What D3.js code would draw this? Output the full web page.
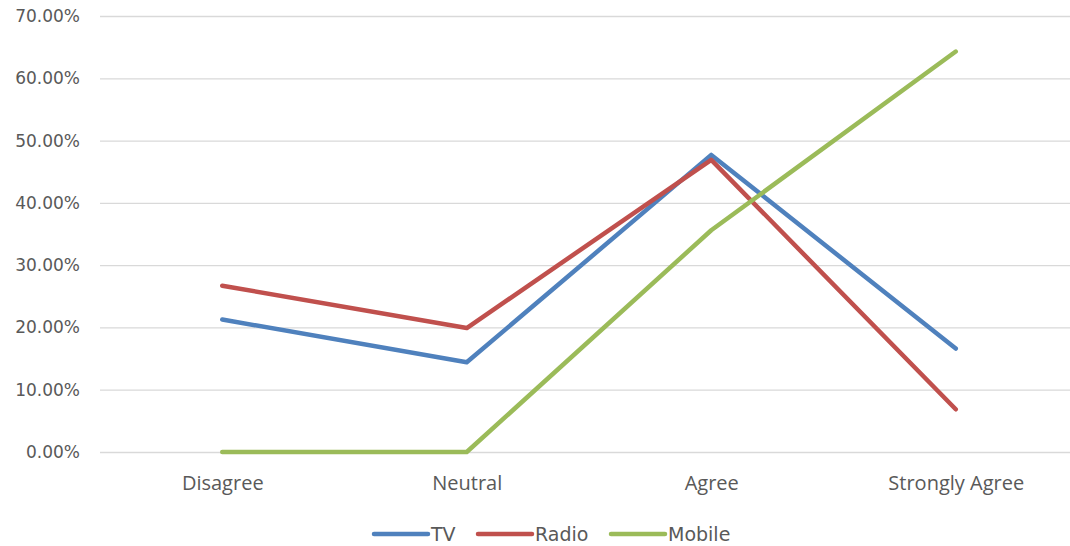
<!DOCTYPE html>
<html>
<head>
<meta charset="utf-8">
<script src="https://cdn.jsdelivr.net/npm/d3@7"></script>
<style>
  body { margin: 0; background: #fff; }
</style>
</head>
<body>
<script>
var categories = ["Disagree", "Neutral", "Agree", "Strongly Agree"];
var seriesNames = ["TV", "Radio", "Mobile"];
var tv = [0.2127, 0.1440, 0.4770, 0.1660];
var radio = [0.2670, 0.1990, 0.4690, 0.0686];
var mobile = [0, 0, 0.3560, 0.6430];
var yTicks = [0, 0.1, 0.2, 0.3, 0.4, 0.5, 0.6, 0.7];
var colors = ["#4F81BD", "#C0504D", "#9BBB59"];

var svg = d3.select("body")
    .append("svg")
    .attr("width", 1070)
    .attr("height", 546)
    .style("display", "block");

var margin = {top: 16, right: -8, bottom: 94, left: 100};
var width = 1070 - margin.left - margin.right;
var height = 546 - margin.top - margin.bottom;
var g = svg.append("g").attr("transform", "translate(" + margin.left + "," + margin.top + ")");

var x = d3.scalePoint()
    .domain(categories)
    .range([0, width])
    .padding(0.5);

var y = d3.scaleLinear()
    .domain([0, 0.7])
    .range([height, 0]);

var fmt = d3.format(".2%");

// gridlines + y labels
var yAxis = d3.axisLeft(y)
    .tickValues(yTicks)
    .tickSize(-width)
    .tickFormat(fmt)
    .tickPadding(20);

g.append("g")
    .call(yAxis)
    .call(function(a) {
        a.select(".domain").remove();
        a.selectAll(".tick line").attr("stroke", "#d9d9d9").attr("stroke-width", 1.3);
        a.selectAll(".tick text")
            .attr("fill", "#595959")
            .style("font-family", "'DejaVu Sans', sans-serif")
            .style("font-size", "17px");
    });

var xAxis = d3.axisBottom(x).tickSize(0).tickPadding(24);

g.append("g")
    .attr("transform", "translate(0," + height + ")")
    .call(xAxis)
    .call(function(a) {
        a.select(".domain").remove();
        a.selectAll(".tick text")
            .attr("fill", "#595959")
            .style("font-family", "'Open Sans', sans-serif")
            .style("font-size", "20px")
            .attr("textLength", null);
    });

var allSeries = [tv, radio, mobile];

var line = d3.line()
    .x(function(d, i) { return x(categories[i]); })
    .y(function(d) { return y(d); });

g.selectAll(".series")
    .data(allSeries)
    .enter()
    .append("path")
    .attr("class", "series")
    .attr("d", line)
    .attr("fill", "none")
    .attr("stroke", function(d, i) { return colors[i]; })
    .attr("stroke-width", 4.5)
    .attr("stroke-linecap", "round")
    .attr("stroke-linejoin", "round");

// legend
var legendX = [374, 478, 611];
var legend = svg.selectAll(".legend")
    .data(seriesNames)
    .enter()
    .append("g")
    .attr("class", "legend")
    .attr("transform", function(d, i) { return "translate(" + legendX[i] + ",534)"; });

legend.append("line")
    .attr("x1", 0)
    .attr("x2", 54)
    .attr("stroke", function(d, i) { return colors[i]; })
    .attr("stroke-width", 4.5)
    .attr("stroke-linecap", "round");

legend.append("text")
    .attr("x", 57)
    .attr("dy", "0.35em")
    .attr("fill", "#595959")
    .style("font-family", "'DejaVu Sans', sans-serif")
    .style("font-size", "19px")
    .text(function(d) { return d; });
</script>
</body>
</html>
